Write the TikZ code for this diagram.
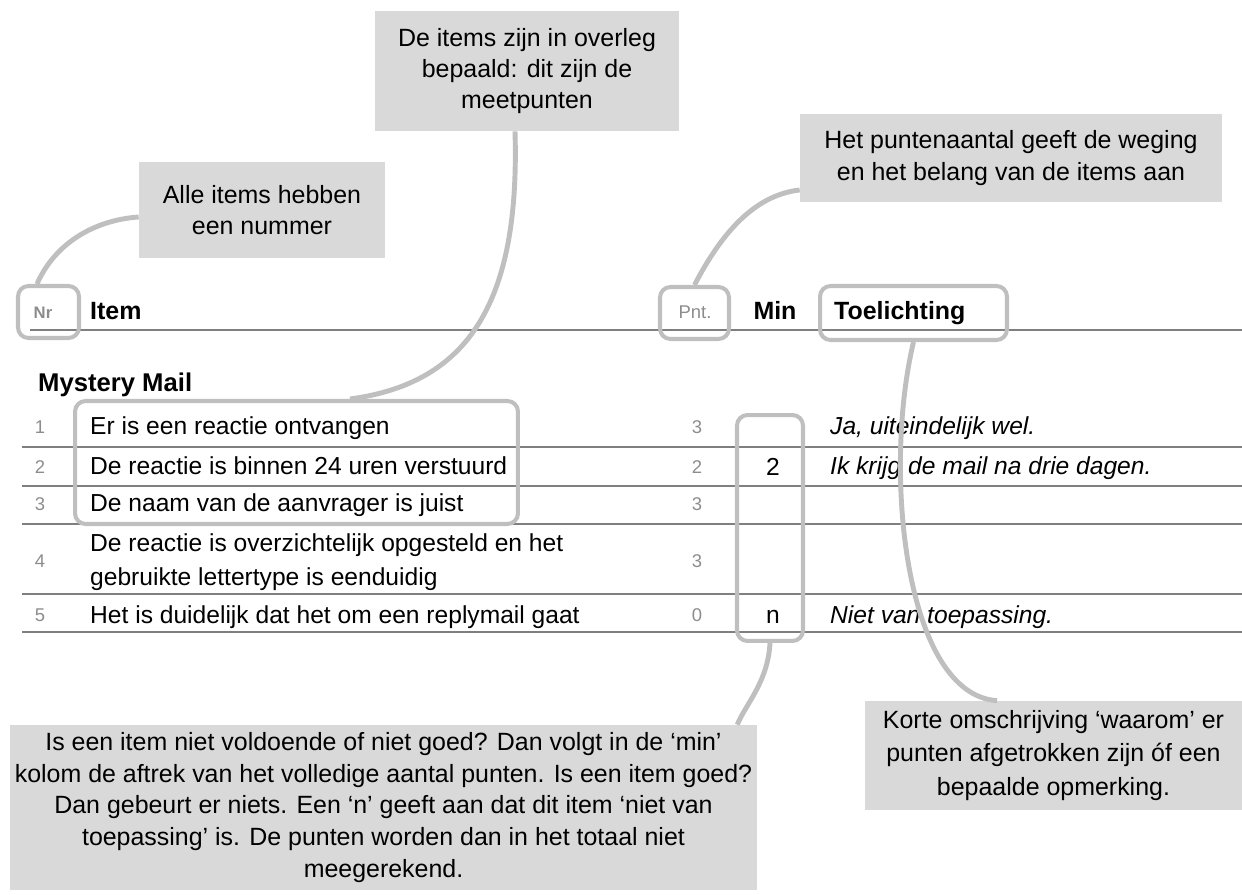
\documentclass[tikz,border=0pt]{standalone}
\usepackage{fontspec}
\setmainfont{Liberation Sans}
\usepackage{tikz}
\usetikzlibrary{positioning}

\definecolor{kaderGrijs}{HTML}{D9D9D9}
\definecolor{lijnGrijs}{HTML}{BFBFBF}
\definecolor{regelGrijs}{HTML}{7F7F7F}
\definecolor{cijferGrijs}{HTML}{8C8C8C}

\tikzset{
    uitleg/.style={fill=kaderGrijs, inner sep=0pt, align=center, font=\fontsize{14.2}{17.6}\selectfont},
    markering/.style={draw=lijnGrijs, line width=2.3pt, rounded corners=6pt, inner sep=0pt},
    verbinding/.style={draw=lijnGrijs, line width=2.8pt},
    kop/.style={anchor=base west, font=\fontsize{14.2}{16}\selectfont\bfseries},
    tekst/.style={anchor=base west, font=\fontsize{14}{16}\selectfont},
    toel/.style={anchor=base west, font=\fontsize{14}{16}\selectfont\itshape},
    klein/.style={anchor=base, text=cijferGrijs, font=\fontsize{10.5}{12}\selectfont},
}

\begin{document}
\begin{tikzpicture}[x=0.02cm, y=-0.02cm]

        \useasboundingbox (0,0) rectangle (1242,895);

        % Tabelkop
        \draw[regelGrijs, line width=1.7pt] (30,330) -- (1242,330);
        \node[klein, font=\fontsize{9.5}{11}\selectfont\bfseries] (nr) at (43,319) {Nr};
        \node[kop] (item) at (84,320) {Item};
        \node[klein, font=\fontsize{10.5}{12}\selectfont] (pnt) at (695,319) {Pnt.};
        \node[kop, anchor=base] (min) at (775,320) {Min};
        \node[kop] (toel) at (828,320) {Toelichting};

        \node[kop, font=\fontsize{14.6}{16}\selectfont\bfseries] (mystery) at (32,392) {Mystery Mail};

        % Regels tussen de items
        \foreach \y in {447, 486, 524, 594, 632}
            \draw[regelGrijs, line width=1.1pt] (22,\y) -- (1242,\y);

        % Items
        \node[klein] (nr1) at (40,434) {1};
        \node[klein] (nr2) at (40,474) {2};
        \node[klein] (nr3) at (40,511) {3};
        \node[klein] (nr4) at (40,567) {4};
        \node[klein] (nr5) at (40,622) {5};

        \node[tekst] (it1) at (84,435) {Er is een reactie ontvangen};
        \node[tekst] (it2) at (84,475) {De reactie is binnen 24 uren verstuurd};
        \node[tekst] (it3) at (84,512) {De naam van de aanvrager is juist};
        \node[tekst] (it4a) at (84,551) {De reactie is overzichtelijk opgesteld en het};
        \node[tekst] (it4b) at (84,585) {gebruikte lettertype is eenduidig};
        \node[tekst] (it5) at (84,623) {Het is duidelijk dat het om een replymail gaat};

        \node[klein] (p1) at (697,434) {3};
        \node[klein] (p2) at (697,474) {2};
        \node[klein] (p3) at (697,511) {3};
        \node[klein] (p4) at (697,567) {3};
        \node[klein] (p5) at (697,622) {0};

        \node[tekst, anchor=base] (m2) at (773,476) {2};
        \node[tekst, anchor=base] (m5) at (773,623) {n};

        \node[toel] (t1) at (824,435) {Ja, uiteindelijk wel.};
        \node[toel] (t2) at (824,475) {Ik krijg de mail na drie dagen.};
        \node[toel] (t5) at (824,623) {Niet van toepassing.};

        % Markeringen
        \node[markering, minimum width=1.22cm, minimum height=1.04cm] (nrkader) at (48.5,312) {};
        \node[markering, minimum width=1.38cm, minimum height=1.04cm] (pntkader) at (694.5,313) {};
        \node[markering, minimum width=3.74cm, minimum height=1.08cm] (toelkader) at (913.5,313) {};
        \node[markering, minimum width=8.86cm, minimum height=2.46cm] (itemkader) at (296.5,462.5) {};
        \node[markering, minimum width=1.32cm, minimum height=4.52cm] (minkader) at (770,528) {};

        % Uitlegkaders
        \node[uitleg, minimum width=6.08cm, minimum height=2.4cm] (overleg) at (527,71) {De items zijn in overleg\\bepaald: dit zijn de\\meetpunten};
        \node[uitleg, minimum width=4.92cm, minimum height=1.92cm] (nummer) at (262,210) {Alle items hebben\\een nummer};
        \node[uitleg, minimum width=8.44cm, minimum height=1.76cm, font=\fontsize{14.2}{18.7}\selectfont] (weging) at (1011,158) {Het puntenaantal geeft de weging\\en het belang van de items aan};
        \node[uitleg, minimum width=14.94cm, minimum height=3.3cm, font=\fontsize{14.2}{18.1}\selectfont] (aftrek) at (383.5,807.5) {Is een item niet voldoende of niet goed? Dan volgt in de ‘min’\\kolom de aftrek van het volledige aantal punten. Is een item goed?\\Dan gebeurt er niets. Een ‘n’ geeft aan dat dit item ‘niet van\\toepassing’ is. De punten worden dan in het totaal niet\\meegerekend.};
        \node[uitleg, minimum width=7.54cm, minimum height=2.18cm, font=\fontsize{14.2}{19}\selectfont] (omschrijving) at (1053.5,755.5) {Korte omschrijving ‘waarom’ er\\punten afgetrokken zijn óf een\\bepaalde opmerking.};

        % Verbindingen
        \draw[verbinding] ([xshift=-0.23cm]nrkader.north) .. controls +(18,-41) and +(-44,3) .. ([yshift=-0.14cm]nummer.west);
        \draw[verbinding] ([xshift=-0.24cm]overleg.south) .. controls +(5,169) and +(120,-16) .. ([xshift=1.07cm]itemkader.north);
        \draw[verbinding] (pntkader.north) .. controls +(27,-52) and +(-45,5) .. ([yshift=-0.64cm]weging.west);
        \draw[verbinding] (toelkader.south) .. controls +(-31,130) and +(-92,-6) .. ([xshift=-1.13cm]omschrijving.north);
        \draw[verbinding] (minkader.south) .. controls +(-2,39) and +(8,-20) .. ([xshift=-0.4cm]aftrek.north east);

\end{tikzpicture}
\end{document}
